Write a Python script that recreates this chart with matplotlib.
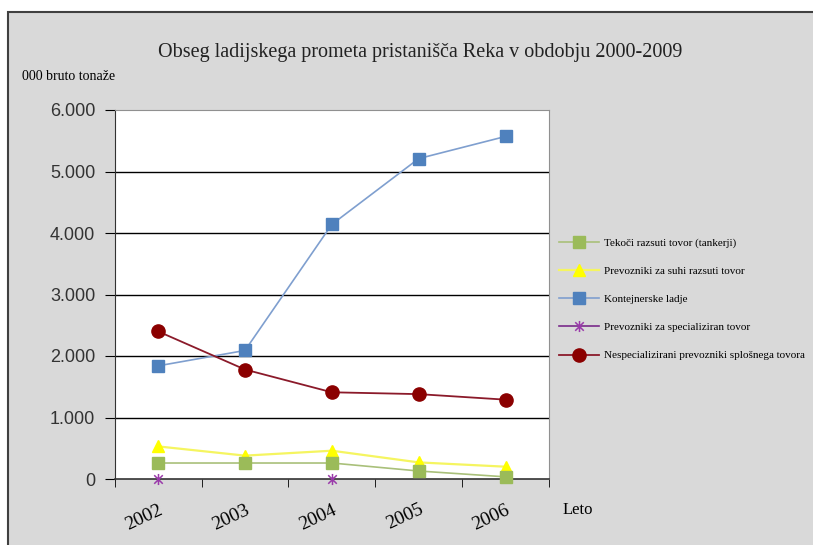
import numpy as np
import matplotlib
matplotlib.use("Agg")
import matplotlib.pyplot as plt
from matplotlib.patches import Rectangle
from matplotlib.path import Path

years = ["2002", "2003", "2004", "2005", "2006"]
tekoci = [260, 260, 260, 130, 35]
suhi = [530, 380, 460, 270, 200]
kontejnerske = [1840, 2090, 4140, 5210, 5570]
specializiran = [0, np.nan, 0, np.nan, np.nan]
nespecializirani = [2400, 1780, 1410, 1380, 1290]

series_labels = [
    "Tekoči razsuti tovor (tankerji)",
    "Prevozniki za suhi razsuti tovor",
    "Kontejnerske ladje",
    "Prevozniki za specializiran tovor",
    "Nespecializirani prevozniki splošnega tovora",
]
yticks = [0, 1000, 2000, 3000, 4000, 5000, 6000]
ytick_labels = ["0", "1.000", "2.000", "3.000", "4.000", "5.000", "6.000"]

serif = "Liberation Serif"
sans = "Liberation Sans"

# asterisk-style marker: two diagonals plus a vertical stroke
star = Path([(-1, -1), (1, 1), (-1, 1), (1, -1), (0, -1.3), (0, 1.3)],
            [Path.MOVETO, Path.LINETO, Path.MOVETO, Path.LINETO, Path.MOVETO, Path.LINETO])

fig = plt.figure(figsize=(8.13, 5.45), dpi=100)
fig.patch.set_facecolor("white")
# grey chart area with dark border
fig.patches.append(Rectangle((8 / 813, -0.05), 1.1, 1 - 12 / 545 + 0.05,
                             transform=fig.transFigure, facecolor="#d9d9d9",
                             edgecolor="#404040", linewidth=1.5, zorder=-5))

ax = fig.add_axes([114.7 / 813, 1 - 479 / 545, (549 - 114.7) / 813, (479 - 110) / 545])
ax.set_facecolor("white")
x = np.arange(len(years))

ax.plot(x, tekoci, color="#a9c07a", lw=1.2, marker="s", ms=8,
        mfc="#9bbb59", mec="#9bbb59", label=series_labels[0], zorder=3, clip_on=False)
ax.plot(x, suhi, color="#f5f560", lw=1.6, marker="^", ms=9,
        mfc="#ffff00", mec="#ffff00", label=series_labels[1], zorder=2, clip_on=False)
ax.plot(x, kontejnerske, color="#7f9fcf", lw=1.2, marker="s", ms=8,
        mfc="#4f81bd", mec="#4f81bd", label=series_labels[2], zorder=3, clip_on=False)
ax.plot(x, specializiran, color="#7a2a8a", lw=1.2, marker=star, ms=8,
        mew=1.1, mec="#9a3aaa", label=series_labels[3], zorder=4, clip_on=False)
ax.plot(x, nespecializirani, color="#8b1a2a", lw=1.3, marker="o", ms=9.5,
        mfc="#8b0000", mec="#8b0000", label=series_labels[4], zorder=3, clip_on=False)

ax.set_xlim(-0.5, 4.5)
ax.set_ylim(0, 6000)
ax.set_yticks(yticks)
ax.set_yticklabels(ytick_labels, fontfamily=sans, fontsize=13, color="#333333")
ax.set_xticks(x)
ax.set_xticklabels(years, fontfamily=serif, fontsize=14, rotation=25,
                   ha="right", rotation_mode="anchor")
ax.set_xticks(np.arange(-0.5, 5.0, 1.0), minor=True)
ax.tick_params(axis="x", which="major", length=0, pad=16)
ax.tick_params(axis="x", which="minor", length=6, direction="out", color="black")
ax.tick_params(axis="y", length=7, direction="out", pad=7)
for yv in yticks[1:-1]:
    ax.axhline(yv, color="black", lw=1.0, zorder=1)

ax.spines["left"].set_color("#333333")
ax.spines["bottom"].set_color("#333333")
ax.spines["bottom"].set_linewidth(1.2)
ax.spines["top"].set_color("#909090")
ax.spines["right"].set_color("#909090")

leg = fig.legend(loc="upper left", bbox_to_anchor=(559 / 813, 1 - 238 / 545),
                 frameon=False, prop={"family": serif, "size": 8},
                 handlelength=3.6, labelspacing=1.65, handletextpad=0.45,
                 borderaxespad=0, borderpad=0)

fig.text(420 / 813, 1 - 52 / 545, "Obseg ladijskega prometa pristanišča Reka v obdobju 2000-2009",
         ha="center", va="center", fontfamily=serif, fontsize=14.5, color="#222222")
fig.text(22 / 813, 1 - 76 / 545, "000 bruto tonaže", ha="left", va="center",
         fontfamily=serif, fontsize=10)
fig.text(563 / 813, 1 - 510 / 545, "Leto", ha="left", va="center",
         fontfamily=serif, fontsize=12)

fig.savefig("out.png", dpi=100)
